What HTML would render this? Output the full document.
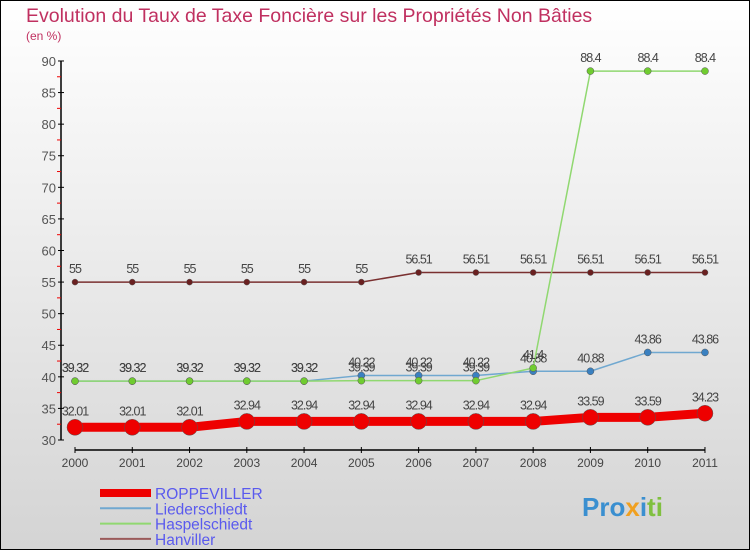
<!DOCTYPE html>
<html><head><meta charset="utf-8"><style>
body{margin:0;}
svg{display:block;font-family:"Liberation Sans",sans-serif;}
</style></head><body>
<svg width="750" height="550">
<defs><linearGradient id="bg" x1="0" y1="0" x2="0" y2="1"><stop offset="0" stop-color="#ffffff"/><stop offset="1" stop-color="#d4d4d4"/></linearGradient></defs>
<rect x="0.5" y="0.5" width="749" height="549" fill="url(#bg)" stroke="#000"/>
<text x="26" y="22" font-size="19.5" fill="#c03060">Evolution du Taux de Taxe Foncière sur les Propriétés Non Bâties</text>
<text x="26" y="40" font-size="12" fill="#c03060">(en %)</text>
<g id="axes"></g><g id="series"></g><g id="legend"></g>
<text x="582" y="516" font-size="26" font-weight="bold" fill="#3a8fd0">Pro<tspan fill="#f0a020">x</tspan><tspan fill="#3a8fd0">i</tspan><tspan fill="#80c040">ti</tspan></text>
</svg>
<script>
const years=[2000,2001,2002,2003,2004,2005,2006,2007,2008,2009,2010,2011];
const yTicks=[30,35,40,45,50,55,60,65,70,75,80,85,90];
const roppeviller=[32.01,32.01,32.01,32.94,32.94,32.94,32.94,32.94,32.94,33.59,33.59,34.23];
const liederschiedt=[39.32,39.32,39.32,39.32,39.32,40.22,40.22,40.22,40.88,40.88,43.86,43.86];
const haspelschiedt=[39.32,39.32,39.32,39.32,39.32,39.39,39.39,39.39,41.4,88.4,88.4,88.4];
const hanviller=[55,55,55,55,55,55,56.51,56.51,56.51,56.51,56.51,56.51];
const seriesNames=["ROPPEVILLER","Liederschiedt","Haspelschiedt","Hanviller"];
const NS="http://www.w3.org/2000/svg";
function X(i){return 75+i*57.27;}
function Y(v){return 440-(v-30)*6.317;}
function mk(tag,attrs,parent){const e=document.createElementNS(NS,tag);for(const k in attrs)e.setAttribute(k,attrs[k]);parent.appendChild(e);return e;}
const axes=document.getElementById('axes');
let a=mk('line',{x1:61,y1:Y(90),x2:61,y2:Y(30),stroke:'#000','stroke-width':1.5},axes);


a=mk('line',{x1:X(0),y1:450,x2:X(11),y2:450,stroke:'#000','stroke-width':1.5},axes);


yTicks.forEach((v,k)=>{
 mk('line',{x1:58,y1:Y(v),x2:64,y2:Y(v),stroke:'#000'},axes);
 if(k<yTicks.length-1)mk('line',{x1:57,y1:Y(v+2.5),x2:61,y2:Y(v+2.5),stroke:'#e00'},axes);
 const t=mk('text',{x:56,y:Y(v)+5,'font-size':13,fill:'#555','text-anchor':'end'},axes);t.textContent=v;
 
 
});
years.forEach((yr,i)=>{
 mk('line',{x1:X(i),y1:447,x2:X(i),y2:453,stroke:'#000'},axes);
 const t=mk('text',{x:X(i),y:467,'font-size':12,fill:'#444','text-anchor':'middle'},axes);t.textContent=yr;
 
 
});
const sg=document.getElementById('series');
function draw(data,color,w,r,name,dot){
 const g=mk('g',{},sg);
 
 
 mk('polyline',{points:data.map((v,i)=>X(i)+','+Y(v)).join(' '),fill:'none',stroke:color,'stroke-width':w,'stroke-linejoin':'round'},g);
 data.forEach((v,i)=>{
  const c=mk('circle',{cx:X(i),cy:Y(v),r:r,fill:dot,stroke:'#555','stroke-width':0.5},g);
  
  
  const t=mk('text',{x:X(i),y:Y(v)-9-(r>5?3:0),'font-size':12.5,fill:'#444','text-anchor':'middle','letter-spacing':'-1'},g);
  t.textContent=String(v);
  
  
 });
}
draw(hanviller,'#7a3030',1.5,3,'series-hanviller','#6a2020');
draw(liederschiedt,'#70a8d0',1.5,3.5,'series-liederschiedt','#3a80c0');
draw(haspelschiedt,'#90d870',1.5,3.5,'series-haspelschiedt','#70cc30');
draw(roppeviller,'#ee0000',9,8,'series-roppeviller','#ee0000');
const lg=document.getElementById('legend');
const lc=['#ee0000','#70a8d0','#90d870','#9a5a5a'];const lw=[8,2,2,2];
seriesNames.forEach((n,k)=>{
 const g=mk('g',{},lg);
 
 
 const y=493+k*15.3;
 mk('line',{x1:100,y1:y,x2:151,y2:y,stroke:lc[k],'stroke-width':lw[k]},g);
 const t=mk('text',{x:155,y:y+6,'font-size':15.5,fill:'#5a5aee'},g);t.textContent=n;
});
</script>
</body></html>
